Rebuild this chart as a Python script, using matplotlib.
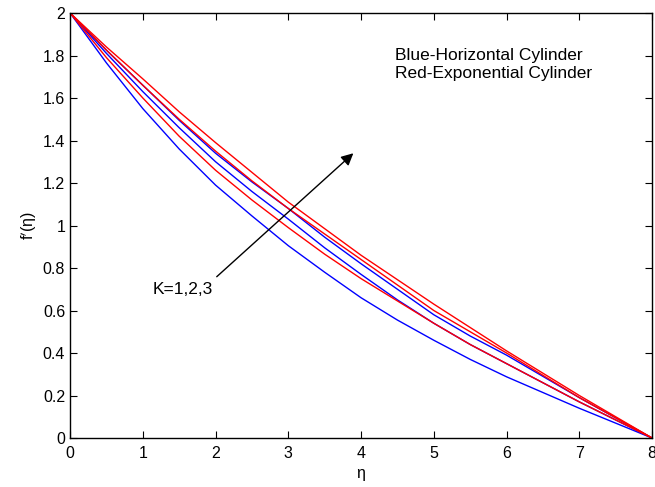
import matplotlib
matplotlib.use("Agg")
import matplotlib.pyplot as plt

plt.rcParams['font.family'] = ['Liberation Sans', 'DejaVu Sans']

eta = [0, 0.5, 1, 1.5, 2, 2.5, 3, 3.5, 4, 4.5, 5, 5.5, 6, 6.5, 7, 7.5, 8]

# horizontal cylinder, K = 1, 2, 3
blue_k1 = [2, 1.765, 1.55, 1.36, 1.19, 1.045, 0.905, 0.78, 0.66,
           0.555, 0.46, 0.37, 0.288, 0.214, 0.14, 0.07, 0]
blue_k2 = [2, 1.81, 1.63, 1.46, 1.30, 1.16, 1.03, 0.895, 0.77,
           0.65, 0.54, 0.44, 0.35, 0.26, 0.17, 0.085, 0]
blue_k3 = [2, 1.825, 1.66, 1.495, 1.34, 1.205, 1.08, 0.945, 0.82,
           0.70, 0.58, 0.48, 0.39, 0.29, 0.19, 0.095, 0]

# exponential cylinder, K = 1, 2, 3
red_k1 = [2, 1.79, 1.60, 1.42, 1.26, 1.12, 0.99, 0.865, 0.75,
          0.645, 0.54, 0.44, 0.35, 0.26, 0.17, 0.085, 0]
red_k2 = [2, 1.825, 1.66, 1.50, 1.35, 1.21, 1.08, 0.96, 0.84,
          0.72, 0.60, 0.50, 0.40, 0.295, 0.19, 0.095, 0]
red_k3 = [2, 1.84, 1.69, 1.535, 1.39, 1.25, 1.11, 0.985, 0.86,
          0.745, 0.63, 0.52, 0.41, 0.305, 0.20, 0.10, 0]

fig = plt.figure(figsize=(6.55, 4.87), dpi=100)
ax = fig.add_axes([0.107, 0.1006, 0.8885, 0.8727])

for y in (blue_k1, blue_k2, blue_k3):
    ax.plot(eta, y, color='blue', lw=1.0)
for y in (red_k1, red_k2, red_k3):
    ax.plot(eta, y, color='red', lw=1.0)

ax.set_xlim(0, 8)
ax.set_ylim(0, 2)
ax.set_xticks(range(0, 9))
ax.set_yticks([0, 0.2, 0.4, 0.6, 0.8, 1, 1.2, 1.4, 1.6, 1.8, 2])
ax.set_yticklabels(['0', '0.2', '0.4', '0.6', '0.8', '1', '1.2', '1.4', '1.6', '1.8', '2'])
ax.tick_params(direction='in', top=True, right=True, length=5, width=0.8,
               labelsize=11.5)
ax.tick_params(axis='x', pad=6)
for s in ax.spines.values():
    s.set_linewidth(1.0)

ax.set_xlabel('η', fontsize=11.5, labelpad=3)
ax.set_ylabel("f$^{\\prime}$(η)", fontsize=11.5, labelpad=3)

ax.text(4.467, 1.802, 'Blue-Horizontal Cylinder', fontsize=12.5, va='center')
ax.text(4.467, 1.713, 'Red-Exponential Cylinder', fontsize=12.5, va='center')

ax.annotate('', xy=(3.894, 1.340), xytext=(2.016, 0.759),
            arrowprops=dict(arrowstyle='-|>', color='black', lw=1.0,
                            mutation_scale=18, shrinkA=0, shrinkB=0))
ax.text(1.14, 0.70, 'K=1,2,3', fontsize=12.5, va='center')

fig.savefig('out.png', dpi=100)
